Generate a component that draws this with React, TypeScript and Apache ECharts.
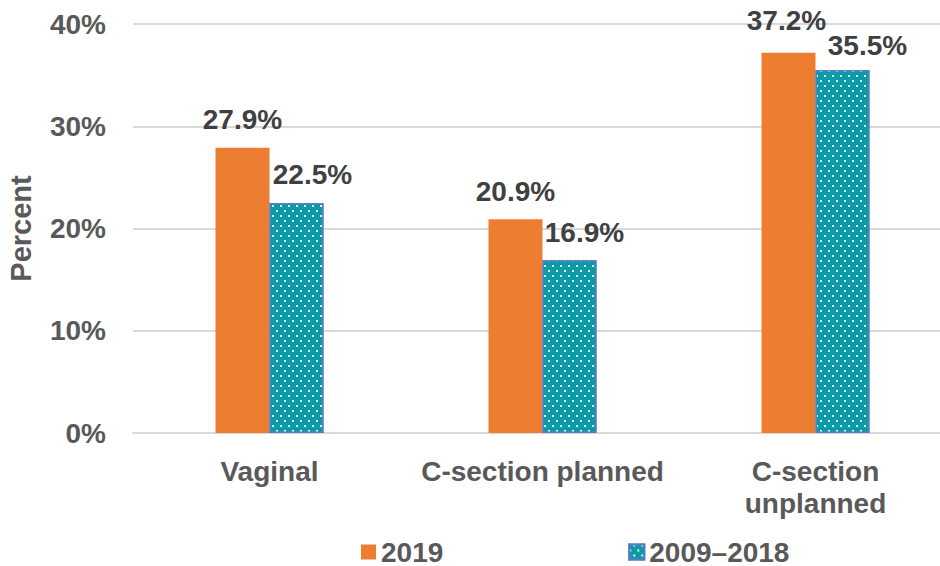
import React, { useEffect, useRef } from "react";
import * as echarts from "echarts";

const categories = ["Vaginal", "C-section planned", "C-section\nunplanned"];
const series2019 = [27.9, 20.9, 37.2];
const series0918 = [22.5, 16.9, 35.5];
const seriesNames = ["2019", "2009\u20132018"];
const yTicks = [0, 10, 20, 30, 40];

const offs2019 = [[0, 0], [0, 0], [-2, -4]];
const offs0918 = [[16, 0], [15, 0], [25, 3]];

const FONT = "'Liberation Sans', Arial, sans-serif";

export default function App() {
  const ref = useRef<HTMLDivElement>(null);
  useEffect(() => {
    if (!ref.current) return;
    const chart = echarts.init(ref.current, undefined, { renderer: "svg" });
    const labelBase = {
      show: true,
      position: "top",
      distance: 14,
      formatter: (p: any) => p.value.toFixed(1) + "%",
      fontFamily: FONT,
      fontWeight: "bold",
      fontSize: 28,
      color: "#404040",
    };
    chart.setOption({
      animation: false,
      textStyle: { fontFamily: FONT },
      grid: {
        left: 133,
        right: -12,
        top: 24,
        bottom: 133,
        containLabel: false,
        outerBoundsMode: "none",
      },
      legend: {
        left: 356,
        top: 533,
        itemWidth: 15,
        itemHeight: 15,
        itemGap: 185,
        icon: "rect",
        textStyle: { fontFamily: FONT, fontWeight: "bold", fontSize: 28, color: "#595959" },
        data: seriesNames,
      },
      xAxis: {
        type: "category",
        data: categories,
        axisLine: { lineStyle: { color: "#d9d9d9", width: 2 } },
        axisTick: { show: false },
        axisLabel: {
          margin: 22,
          fontFamily: FONT,
          fontWeight: "bold",
          fontSize: 28,
          lineHeight: 32,
          color: "#595959",
          interval: 0,
        },
      },
      yAxis: {
        type: "value",
        min: yTicks[0],
        max: yTicks[yTicks.length - 1],
        interval: 10,
        name: "Percent",
        nameLocation: "middle",
        nameGap: 98,
        nameTextStyle: { fontFamily: FONT, fontWeight: "bold", fontSize: 29, color: "#595959" },
        axisLine: { show: false },
        axisTick: { show: false },
        splitLine: { lineStyle: { color: "#d9d9d9", width: 2 } },
        axisLabel: {
          margin: 27,
          fontFamily: FONT,
          fontWeight: "bold",
          fontSize: 28,
          color: "#595959",
          formatter: (v: number) => v + "%",
        },
      },
      series: [
        {
          name: seriesNames[0],
          type: "bar",
          barWidth: 54,
          barGap: 0,
          itemStyle: { color: "#ED7D31" },
          data: series2019.map((v, i) => ({ value: v, label: { offset: offs2019[i] } })),
          label: labelBase,
        },
        {
          name: seriesNames[1],
          type: "bar",
          barWidth: 54,
          barGap: 0,
          itemStyle: {
            color: "#0A9BA6",
            borderColor: "#4F7FC4",
            borderWidth: 1.5,
            decal: {
              symbol: "rect",
              symbolSize: 1,
              color: "rgba(255,255,255,0.9)",
              dashArrayX: [[2, 6], [0, 4, 2, 2]],
              dashArrayY: [2, 2.5],
              rotation: 0,
            },
          },
          data: series0918.map((v, i) => ({ value: v, label: { offset: offs0918[i] } })),
          label: labelBase,
        },
      ],
    });
    return () => chart.dispose();
  }, []);
  return (
    <div
      ref={ref}
      style={{ position: "absolute", left: 0, top: 0, width: 940, height: 566, overflow: "hidden" }}
    />
  );
}
